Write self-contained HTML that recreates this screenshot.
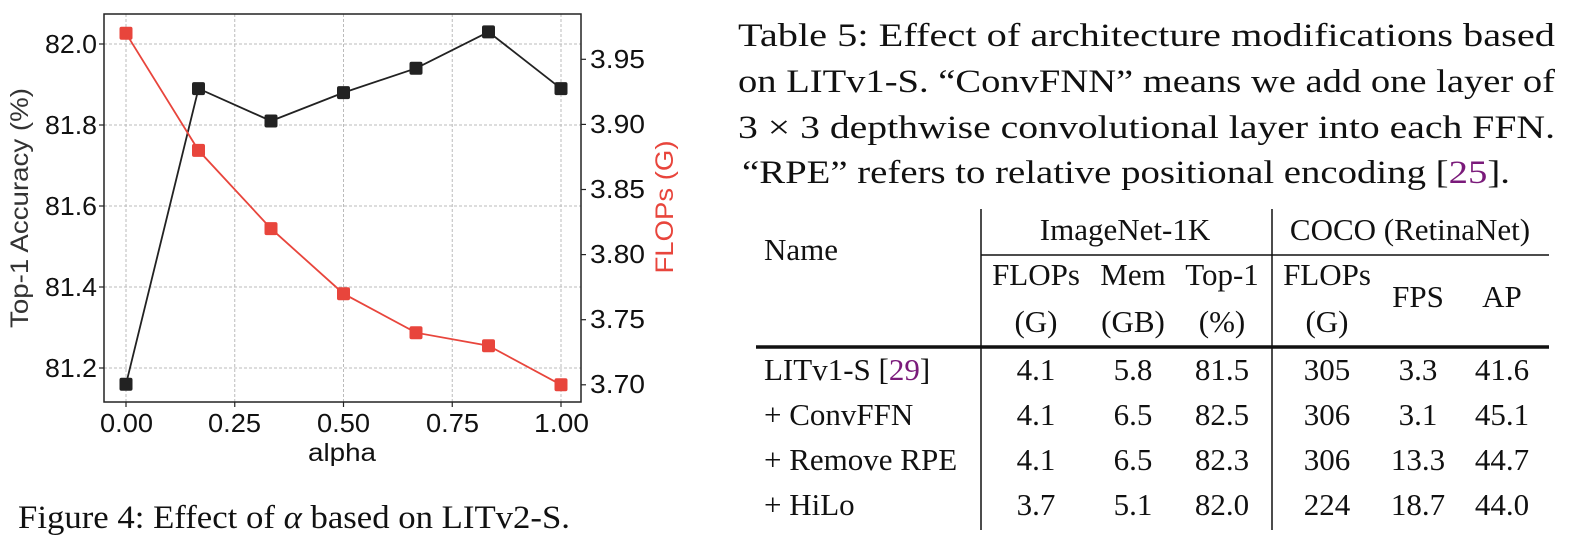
<!DOCTYPE html>
<html><head><meta charset="utf-8"><style>html,body{margin:0;padding:0;background:#fff}svg{display:block}
.s{font-family:"Liberation Sans",Arial,sans-serif}.r{font-family:"Liberation Serif","Times New Roman",serif}</style></head>
<body>
<svg width="1585" height="555" xmlns="http://www.w3.org/2000/svg">
<rect width="1585" height="555" fill="#fff"/>
<g stroke="#bbb" stroke-width="1" stroke-dasharray="3,2">
<line x1="126" y1="14" x2="126" y2="402"/><line x1="234.75" y1="14" x2="234.75" y2="402"/><line x1="343.5" y1="14" x2="343.5" y2="402"/><line x1="452.25" y1="14" x2="452.25" y2="402"/><line x1="561" y1="14" x2="561" y2="402"/>
<line x1="104" y1="44" x2="581" y2="44"/><line x1="104" y1="125" x2="581" y2="125"/><line x1="104" y1="206" x2="581" y2="206"/><line x1="104" y1="287" x2="581" y2="287"/><line x1="104" y1="368" x2="581" y2="368"/>
</g>
<rect x="104" y="14" width="477" height="388" fill="none" stroke="#222" stroke-width="1.5"/>
<g stroke="#222" stroke-width="1.2">
<line x1="126" y1="402" x2="126" y2="407"/><line x1="234.75" y1="402" x2="234.75" y2="407"/><line x1="343.5" y1="402" x2="343.5" y2="407"/><line x1="452.25" y1="402" x2="452.25" y2="407"/><line x1="561" y1="402" x2="561" y2="407"/>
<line x1="99" y1="44" x2="104" y2="44"/><line x1="99" y1="125" x2="104" y2="125"/><line x1="99" y1="206" x2="104" y2="206"/><line x1="99" y1="287" x2="104" y2="287"/><line x1="99" y1="368" x2="104" y2="368"/>
<line x1="581" y1="59.3" x2="586" y2="59.3"/><line x1="581" y1="124.4" x2="586" y2="124.4"/><line x1="581" y1="189.5" x2="586" y2="189.5"/><line x1="581" y1="254.6" x2="586" y2="254.6"/><line x1="581" y1="319.7" x2="586" y2="319.7"/><line x1="581" y1="384.8" x2="586" y2="384.8"/>
</g>
<g class="s" font-size="26" fill="#111">
<g text-anchor="end">
<text x="97" y="53" textLength="52" lengthAdjust="spacingAndGlyphs">82.0</text>
<text x="97" y="134" textLength="52" lengthAdjust="spacingAndGlyphs">81.8</text>
<text x="97" y="215" textLength="52" lengthAdjust="spacingAndGlyphs">81.6</text>
<text x="97" y="296" textLength="52" lengthAdjust="spacingAndGlyphs">81.4</text>
<text x="97" y="377" textLength="52" lengthAdjust="spacingAndGlyphs">81.2</text>
</g>
<text x="590" y="68" textLength="55" lengthAdjust="spacingAndGlyphs">3.95</text>
<text x="590" y="133" textLength="55" lengthAdjust="spacingAndGlyphs">3.90</text>
<text x="590" y="198" textLength="55" lengthAdjust="spacingAndGlyphs">3.85</text>
<text x="590" y="263" textLength="55" lengthAdjust="spacingAndGlyphs">3.80</text>
<text x="590" y="328" textLength="55" lengthAdjust="spacingAndGlyphs">3.75</text>
<text x="590" y="393" textLength="55" lengthAdjust="spacingAndGlyphs">3.70</text>
<text x="100" y="432" textLength="53" lengthAdjust="spacingAndGlyphs">0.00</text>
<text x="208" y="432" textLength="53" lengthAdjust="spacingAndGlyphs">0.25</text>
<text x="317" y="432" textLength="53" lengthAdjust="spacingAndGlyphs">0.50</text>
<text x="426" y="432" textLength="53" lengthAdjust="spacingAndGlyphs">0.75</text>
<text x="534" y="432" textLength="55" lengthAdjust="spacingAndGlyphs">1.00</text>
<text x="342" y="461" text-anchor="middle" font-size="25" textLength="68" lengthAdjust="spacingAndGlyphs">alpha</text>
<text transform="translate(28,208) rotate(-90)" text-anchor="middle" font-size="25" fill="#333" textLength="240" lengthAdjust="spacingAndGlyphs">Top-1 Accuracy (%)</text>
<text transform="translate(673,207) rotate(-90)" text-anchor="middle" font-size="25" fill="#e8453c" textLength="133" lengthAdjust="spacingAndGlyphs">FLOPs (G)</text>
</g>
<polyline fill="none" stroke="#222" stroke-width="1.8" points="126,384.2 198.5,88.6 271,121 343.5,92.6 416,68.3 488.5,31.9 561,88.6"/>
<polyline fill="none" stroke="#e8453c" stroke-width="1.8" points="126,33.3 198.5,150.4 271,228.6 343.5,293.7 416,332.7 488.5,345.7 561,384.8"/>
<g fill="#222">
<rect x="119.5" y="377.7" width="13" height="13" rx="2"/><rect x="192" y="82.1" width="13" height="13" rx="2"/><rect x="264.5" y="114.5" width="13" height="13" rx="2"/><rect x="337" y="86.1" width="13" height="13" rx="2"/><rect x="409.5" y="61.8" width="13" height="13" rx="2"/><rect x="482" y="25.4" width="13" height="13" rx="2"/><rect x="554.5" y="82.1" width="13" height="13" rx="2"/>
</g>
<g fill="#e8453c">
<rect x="119.5" y="26.8" width="13" height="13" rx="2"/><rect x="192" y="143.9" width="13" height="13" rx="2"/><rect x="264.5" y="222.1" width="13" height="13" rx="2"/><rect x="337" y="287.2" width="13" height="13" rx="2"/><rect x="409.5" y="326.2" width="13" height="13" rx="2"/><rect x="482" y="339.2" width="13" height="13" rx="2"/><rect x="554.5" y="378.3" width="13" height="13" rx="2"/>
</g>
<g class="r" font-size="33" fill="#111">
<text x="18" y="528" textLength="552" lengthAdjust="spacingAndGlyphs">Figure 4: Effect of <tspan font-style="italic">α</tspan> based on LITv2-S.</text>
<text x="738" y="46" textLength="817" lengthAdjust="spacingAndGlyphs">Table 5: Effect of architecture modifications based</text>
<text x="738" y="92" textLength="817" lengthAdjust="spacingAndGlyphs">on LITv1-S. “ConvFNN” means we add one layer of</text>
<text x="738" y="138" textLength="817" lengthAdjust="spacingAndGlyphs">3 × 3 depthwise convolutional layer into each FFN.</text>
<text x="742" y="183" textLength="768" lengthAdjust="spacingAndGlyphs">“RPE” refers to relative positional encoding [<tspan fill="#7a1a7a">25</tspan>].</text>
</g>
<g stroke="#111">
<line x1="981" y1="209" x2="981" y2="530" stroke-width="1.5"/>
<line x1="1272" y1="209" x2="1272" y2="530" stroke-width="1.5"/>
<line x1="981" y1="255" x2="1549" y2="255" stroke-width="1.5"/>
<line x1="756" y1="347" x2="1549" y2="347" stroke-width="3.5"/>
</g>
<g class="r" font-size="31" fill="#111" text-anchor="middle">
<text x="764" y="260" text-anchor="start">Name</text>
<text x="1125" y="240">ImageNet-1K</text>
<text x="1410" y="240">COCO (RetinaNet)</text>
<text x="1036" y="285">FLOPs</text><text x="1133" y="285">Mem</text><text x="1222" y="285">Top-1</text><text x="1327" y="285">FLOPs</text>
<text x="1418" y="307">FPS</text><text x="1502" y="307">AP</text>
<text x="1036" y="332">(G)</text><text x="1133" y="332">(GB)</text><text x="1222" y="332">(%)</text><text x="1327" y="332">(G)</text>
<text x="764" y="380" text-anchor="start">LITv1-S [<tspan fill="#7a1a7a">29</tspan>]</text>
<text x="1036" y="380">4.1</text><text x="1133" y="380">5.8</text><text x="1222" y="380">81.5</text><text x="1327" y="380">305</text><text x="1418" y="380">3.3</text><text x="1502" y="380">41.6</text>
<text x="764" y="425" text-anchor="start">+ ConvFFN</text>
<text x="1036" y="425">4.1</text><text x="1133" y="425">6.5</text><text x="1222" y="425">82.5</text><text x="1327" y="425">306</text><text x="1418" y="425">3.1</text><text x="1502" y="425">45.1</text>
<text x="764" y="470" text-anchor="start">+ Remove RPE</text>
<text x="1036" y="470">4.1</text><text x="1133" y="470">6.5</text><text x="1222" y="470">82.3</text><text x="1327" y="470">306</text><text x="1418" y="470">13.3</text><text x="1502" y="470">44.7</text>
<text x="764" y="515" text-anchor="start">+ HiLo</text>
<text x="1036" y="515">3.7</text><text x="1133" y="515">5.1</text><text x="1222" y="515">82.0</text><text x="1327" y="515">224</text><text x="1418" y="515">18.7</text><text x="1502" y="515">44.0</text>
</g>
</svg>
</body></html>
